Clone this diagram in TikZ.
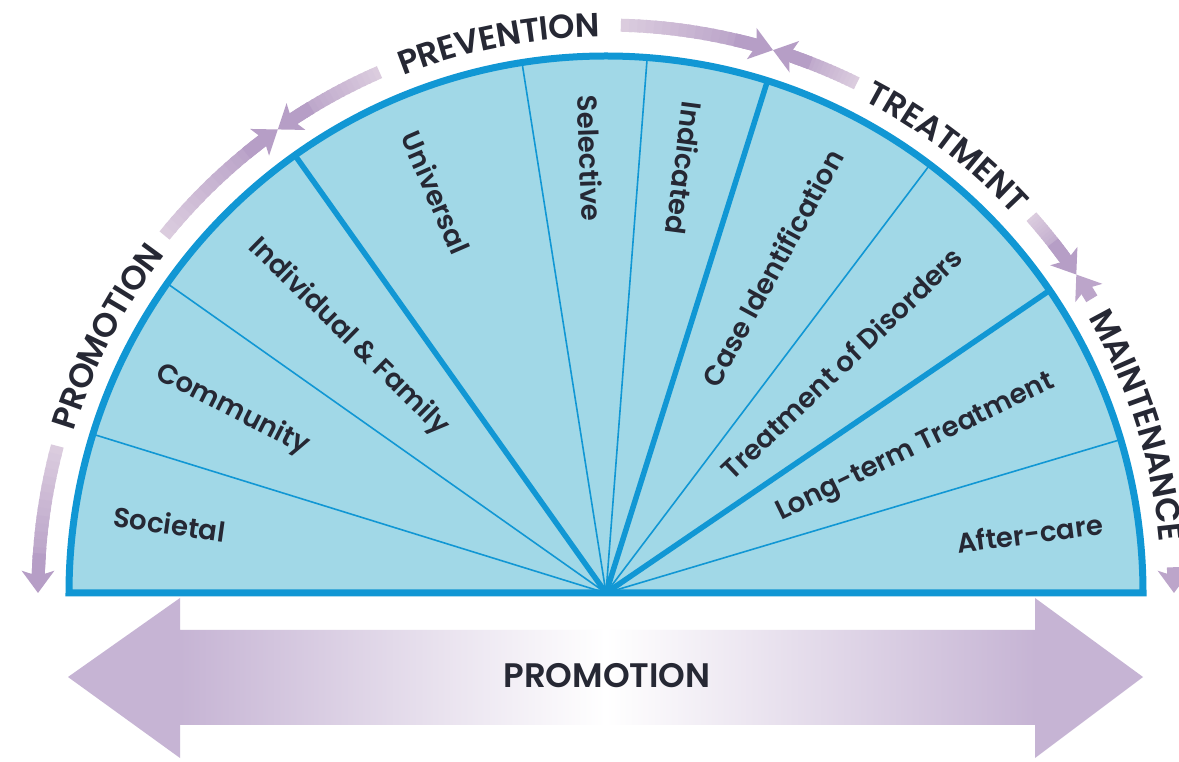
\documentclass[tikz,border=0pt]{standalone}
\usepackage{fontspec}
\newfontfamily\lblfont{Poppins}[UprightFont={* SemiBold}]
\usetikzlibrary{arrows.meta,decorations.text}
\definecolor{cfill}{RGB}{161,216,231}
\definecolor{cline}{RGB}{17,151,212}
\definecolor{txt}{RGB}{38,40,52}
\definecolor{ppdark}{RGB}{182,158,198}
\definecolor{pplight}{RGB}{220,206,223}
\definecolor{ppbig}{RGB}{198,180,212}
\pgfdeclarehorizontalshading{promoshade}{100bp}{color(0bp)=(ppbig); color(30.2bp)=(ppbig); color(50bp)=(white); color(70bp)=(ppbig); color(100bp)=(ppbig)}
\newcommand{\RR}{568}
\newcommand{\arcfont}{\lblfont\fontsize{33.5}{40}\selectfont}
\newcommand{\gradarc}[2]{%
  \pgfmathsetmacro{\gA}{#1}%
  \pgfmathsetmacro{\gB}{#2}%
  \pgfmathsetmacro{\gS}{(\gB>\gA)?1:-1}%
  \pgfmathsetmacro{\gC}{\gB-\gS*2.2}%
  \foreach \i in {0,...,15}{%
    \pgfmathsetmacro{\sa}{\gA+(\gC-\gA)*\i/16}%
    \pgfmathsetmacro{\ea}{\gA+(\gC-\gA)*(\i+1.4)/16}%
    \pgfmathsetmacro{\pct}{100*(\i+0.5)/16}%
    \draw[arcline, draw=ppdark!\pct!pplight] (\sa:\RR) arc[start angle=\sa, end angle=\ea, radius=\RR];
  }%
  \pgfmathsetmacro{\gD}{\gB-\gS*4}%
  \draw[arcline, draw=ppdark, arctip] (\gD:\RR) arc[start angle=\gD, end angle=\gB, radius=\RR];
}
\newcommand{\tiparc}[2]{%
  \draw[arcline, draw=ppdark!85!pplight, arctip] (#1:\RR) arc[start angle=#1, end angle=#2, radius=\RR];
}
\newcommand{\arctext}[2]{%
  \pgfmathsetmacro{\tA}{#1+22}%
  \pgfmathsetmacro{\tB}{#1-22}%
  \path[decorate, decoration={text along path, text align=center, raise=-12pt,
     text color=txt, text={|\arcfont|#2}}]
     (\tA:\RR) arc[start angle=\tA, end angle=\tB, radius=\RR];
}
\begin{document}
\begin{tikzpicture}[x=1pt,y=1pt,
  arcline/.style={line width=13pt, line cap=butt},
  arctip/.style={-{Stealth[length=22pt,width=32pt,inset=5pt]}},
  lbl/.style={font=\lblfont\fontsize{27.5}{32}\selectfont, text=txt, inner sep=0pt},
  bigtxt/.style={font=\lblfont\fontsize{34}{40}\selectfont, text=txt, inner sep=0pt},
  thinsep/.style={draw=cline, line width=1.6pt},
  thicksep/.style={draw=cline, line width=5.5pt},
  rim/.style={draw=cline, line width=7pt, line join=miter}]
\useasboundingbox (0,0) rectangle (1179,761);
\fill[white] (0,0) rectangle (1179,761);

% bottom double arrow
\shade[shading=promoshade] (68,84) -- (180,163) -- (180,131) -- (1035,131) -- (1035,163)
  -- (1143,84) -- (1035,3) -- (1035,36) -- (180,36) -- (180,3) -- cycle;
\node[bigtxt] (promo) at (607,85) {PROMOTION};

\begin{scope}[shift={(606,168)}]
  \coordinate (c) at (0,0);
  % semicircle fill
  \fill[cfill] (537,0) arc[start angle=0, end angle=180, radius=537] -- cycle;
  % separators
  \foreach \a in {16.6,52.9,85.6,99.0,144.8,162.8}
    \draw[thinsep] (c) -- (\a:535);
  \foreach \a in {34.3,72.5,125.4}
    \draw[thicksep] (c) -- (\a:535);
  % rim
  \draw[rim] (537,0) arc[start angle=0, end angle=180, radius=537] -- cycle;

  % sector labels
  \node[lbl, rotate=-8]   (societal)  at (171.0:442) {Societal};
  \node[lbl, rotate=-27]  (community) at (153.9:416) {Community};
  \node[lbl, rotate=-44.5](indiv)     at (135.2:363) {Individual \& Family};
  \node[lbl, rotate=-66.5](universal) at (113.0:435) {Universal};
  \node[lbl, rotate=-88]  (selective) at (92.1:435)  {Selective};
  \node[lbl, rotate=-97.5](indicated) at (79.5:432)  {Indicated};
  \node[lbl, rotate=61.5] (caseid)    at (62.9:365)  {Case Identification};
  \node[lbl, rotate=43.7] (treat)     at (44.3:329)  {Treatment of Disorders};
  \node[lbl, rotate=26]   (longterm)  at (25.0:342)  {Long-term Treatment};
  \node[lbl, rotate=7.5]  (aftercare) at (8.0:428)   {After-care};

  % outer arcs
  \gradarc{165}{180}
  \gradarc{141}{125.3}
  \gradarc{113.5}{125.3}
  \gradarc{88.5}{72.9}
  \gradarc{63.8}{72.9}
  \gradarc{41.5}{34.1}
  \tiparc{31.2}{34.1}
  \tiparc{2.6}{0}

  \arctext{152.8}{PROMOTION}
  \arctext{101}{PREVENTION}
  \arctext{52.6}{TREATMENT}
  \arctext{17.5}{MAINTENANCE}
\end{scope}
\end{tikzpicture}
\end{document}
